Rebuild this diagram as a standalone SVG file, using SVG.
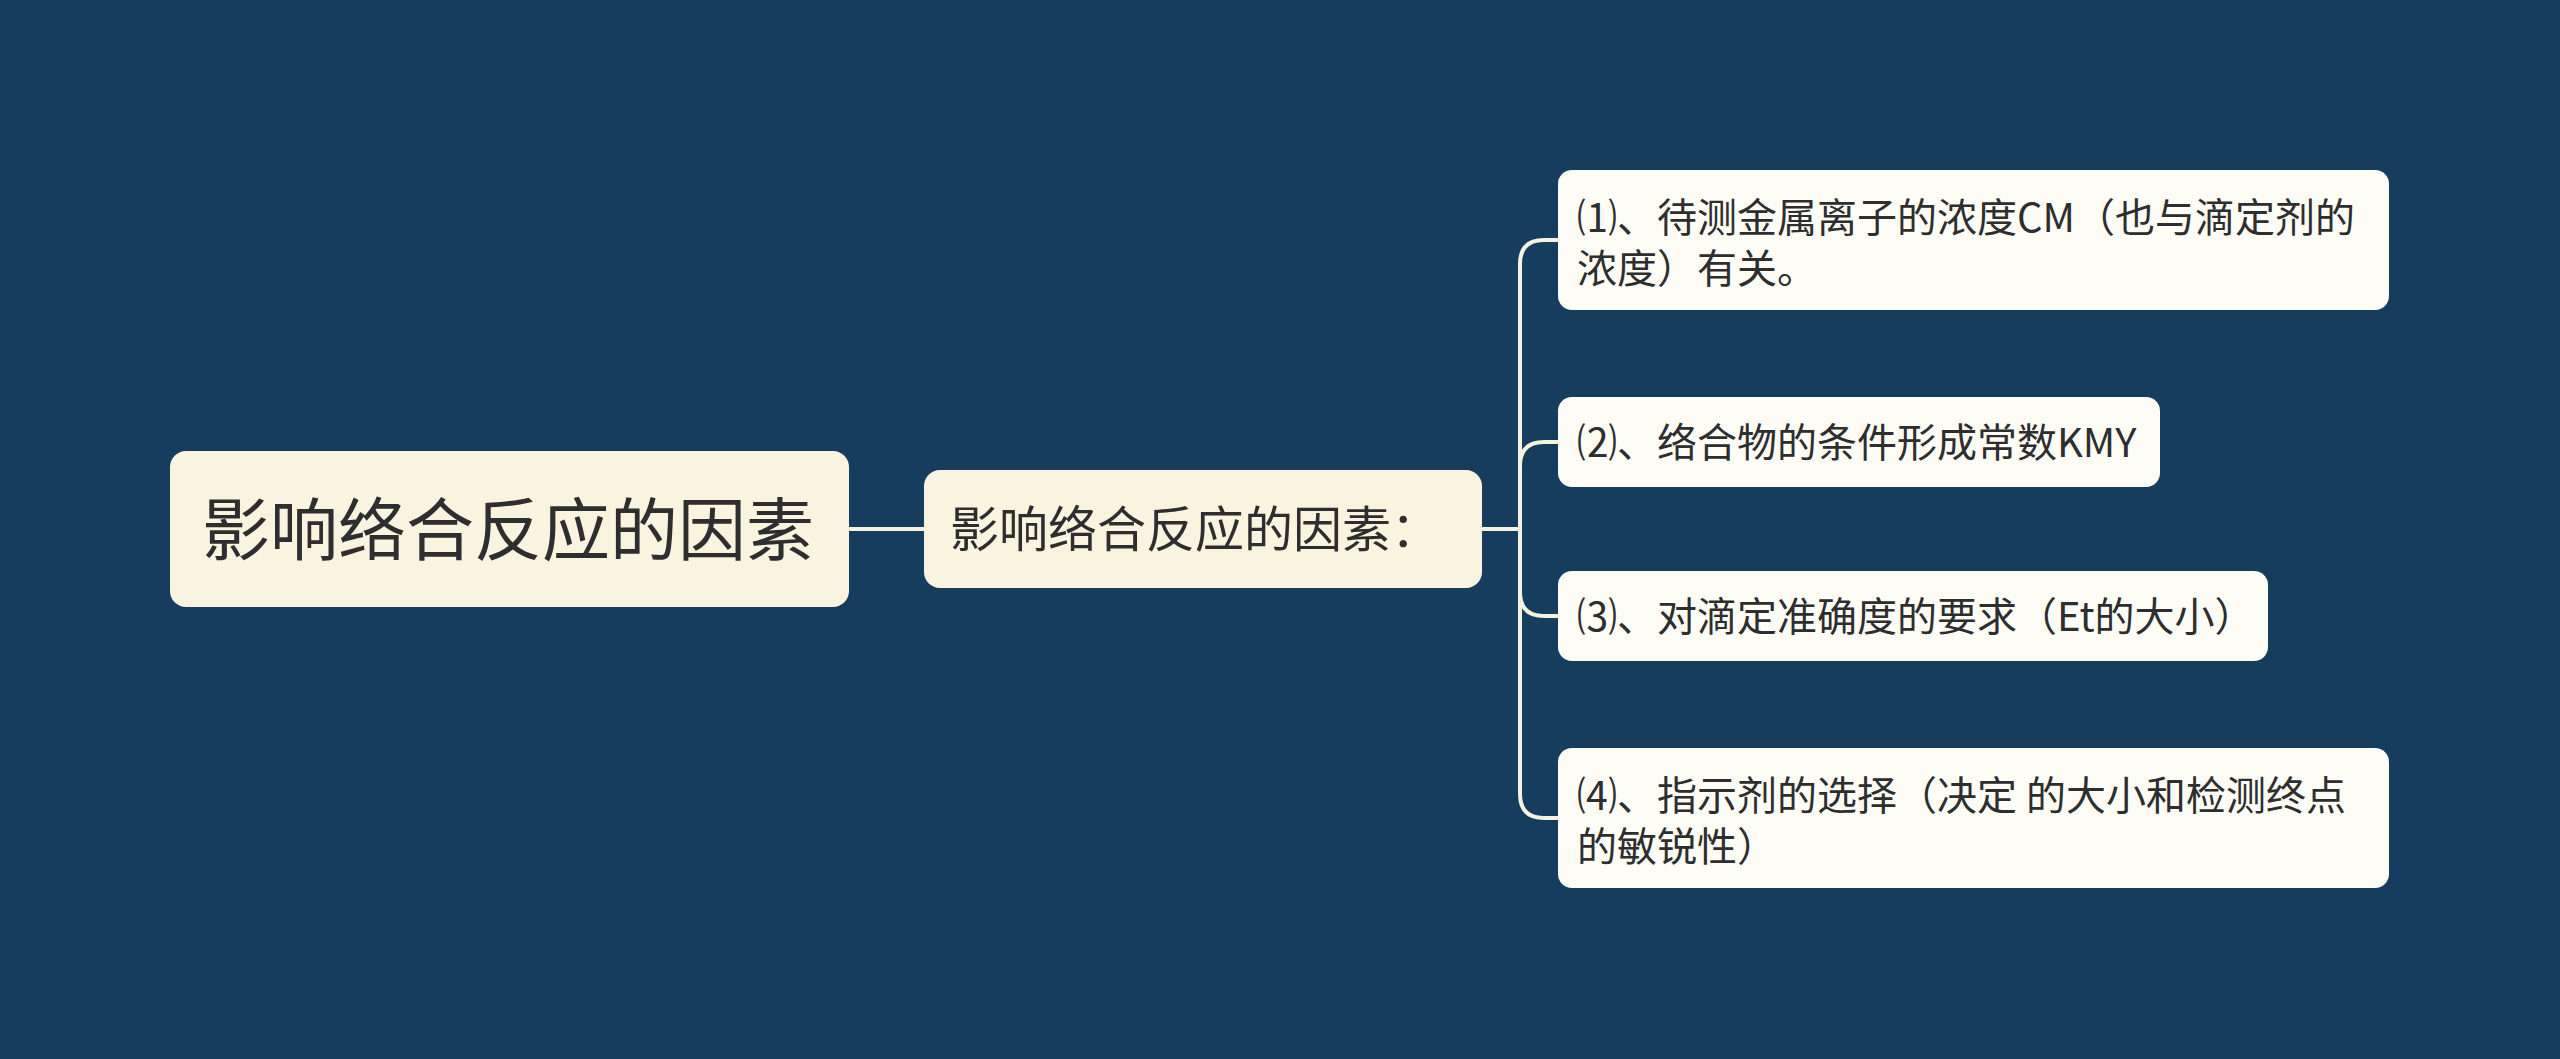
<svg xmlns="http://www.w3.org/2000/svg" width="2560" height="1059" viewBox="0 0 2560 1059">
<style>
text{font-family:"Noto Sans CJK SC","Noto Sans",sans-serif;fill:#2e2e2e}
.root{fill:#f8f4e0}
.mid{fill:#f8f4e0}
.leaf{fill:#fdfdf6}
.conn{fill:none;stroke:#f5f2de;stroke-width:4}
.lt{font-size:40px}
</style>
<rect width="2560" height="1059" fill="#173d5e"/>
<g id="connectors">
<line class="conn" x1="849" y1="529" x2="924" y2="529"/>
<line class="conn" x1="1482" y1="529" x2="1520" y2="529"/>
<path class="conn" d="M1558 240 H1544 Q1520 240 1520 264 V794 Q1520 818 1544 818 H1558"/>
<path class="conn" d="M1558 442 H1544 Q1520 442 1520 466"/>
<path class="conn" d="M1520 592 Q1520 616 1544 616 H1558"/>
</g>
<g id="root">
<rect class="root" x="170" y="451" width="679" height="156" rx="16"/>
<text x="202" y="555" font-size="68">影响络合反应的因素</text>
</g>
<g id="middle">
<rect class="mid" x="924" y="470" width="558" height="118" rx="16"/>
<text x="950" y="547" font-size="49">影响络合反应的因素：</text>
</g>
<g id="leaf1">
<rect class="leaf" x="1558" y="170" width="831" height="140" rx="14"/>
<text class="lt"><tspan x="1577" y="232">⑴、待测金属离子的浓度CM（也与滴定剂的</tspan><tspan x="1577" y="283">浓度）有关。</tspan></text>
</g>
<g id="leaf2">
<rect class="leaf" x="1558" y="397" width="602" height="90" rx="14"/>
<text class="lt" x="1577" y="457">⑵、络合物的条件形成常数KMY</text>
</g>
<g id="leaf3">
<rect class="leaf" x="1558" y="571" width="710" height="90" rx="14"/>
<text class="lt" x="1577" y="631">⑶、对滴定准确度的要求（Et的大小）</text>
</g>
<g id="leaf4">
<rect class="leaf" x="1558" y="748" width="831" height="140" rx="14"/>
<text class="lt"><tspan x="1577" y="810">⑷、指示剂的选择（决定 的大小和检测终点</tspan><tspan x="1577" y="861">的敏锐性）</tspan></text>
</g>
</svg>
